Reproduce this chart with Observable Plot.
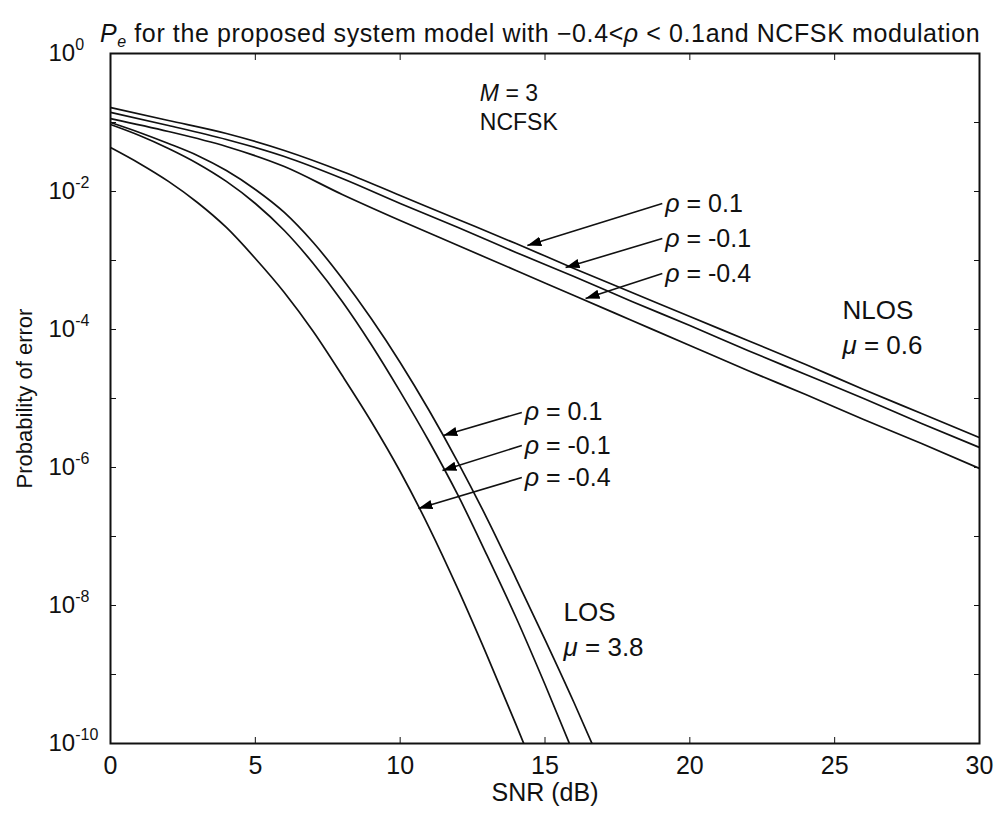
<!DOCTYPE html>
<html>
<head>
<meta charset="utf-8">
<script src="https://cdn.jsdelivr.net/npm/d3@7"></script>
<script src="https://cdn.jsdelivr.net/npm/@observablehq/plot@0.6"></script>
<style>
  body { margin: 0; background: #fff; }
  #wrap { position: relative; width: 1003px; height: 816px; font-family: "Liberation Sans", Arial, sans-serif; }
  #title { position: absolute; left: 100px; top: 21px; font-size: 25px; line-height: 25px; letter-spacing: 0.6px; white-space: nowrap; color: #111; }
  #title sub { font-size: 16px; vertical-align: -5px; line-height: 0; }
</style>
</head>
<body>
<div id="wrap">
  <div id="title"><i>P</i><sub><i>e</i></sub> for the proposed system model with −0.4&lt;<i>ρ</i> &lt; 0.1and NCFSK modulation</div>
</div>
<script>
// ---------- data ----------
const nlosSNR = [0, 2, 4, 6, 8, 10, 12, 14, 16, 18, 20, 22, 24, 26, 28, 30];
const nlosRho01  = [0.165, 0.107, 0.0693, 0.0393, 0.0195, 8.75e-3, 3.93e-3, 1.76e-3, 7.66e-4, 3.44e-4, 1.54e-4, 6.93e-5, 3.11e-5, 1.35e-5, 6.07e-6, 2.72e-6];
const nlosRhoM01 = [0.140, 0.0906, 0.0568, 0.0321, 0.0154, 6.70e-3, 3.01e-3, 1.31e-3, 5.86e-4, 2.55e-4, 1.14e-4, 4.97e-5, 2.23e-5, 1.0e-5, 4.35e-6, 1.95e-6];
const nlosRhoM04 = [0.114, 0.0741, 0.0449, 0.0230, 9.06e-3, 3.80e-3, 1.65e-3, 7.16e-4, 3.11e-4, 1.35e-4, 5.86e-5, 2.55e-5, 1.14e-5, 4.97e-6, 2.23e-6, 9.68e-7];

const losSNR = [0, 1, 2, 3, 4, 5, 6, 7, 8, 9, 10, 11, 12, 13, 14, 15, 16, 17];
const losRho01  = [0.1, 0.0717, 0.0496, 0.0333, 0.0201, 0.0107, 4.97e-3, 1.82e-3, 5.48e-4, 1.44e-4, 3.33e-5, 6.70e-6, 1.18e-6, 1.82e-7, 2.46e-8, 3.21e-9, 3.93e-10, 4.35e-11];
const losRhoM01 = [0.0935, 0.0648, 0.0420, 0.0255, 0.0140, 6.70e-3, 2.72e-3, 9.05e-4, 2.55e-4, 6.07e-5, 1.26e-5, 2.38e-6, 3.93e-7, 5.31e-8, 6.70e-9, 7.16e-10, 6.93e-11];
const losRhoM04 = [0.0434, 0.0255, 0.0140, 6.93e-3, 3.01e-3, 1.07e-3, 3.44e-4, 9.35e-5, 2.15e-5, 4.65e-6, 8.75e-7, 1.35e-7, 1.71e-8, 1.88e-9, 1.88e-10, 1.76e-11];

const xTicks = [0, 5, 10, 15, 20, 25, 30];
const yTicksAll = [1, 1e-1, 1e-2, 1e-3, 1e-4, 1e-5, 1e-6, 1e-7, 1e-8, 1e-9, 1e-10];
const yTickLabels = [1, 1e-2, 1e-4, 1e-6, 1e-8, 1e-10];

// annotations
const rhoLabels = ["ρ = 0.1", "ρ = -0.1", "ρ = -0.4"];
const nlosLabelSNR = 19.15;
const nlosLabelPe = [6.7e-3, 2.08e-3, 6.48e-4];
const nlosTipSNR = [14.39, 15.71, 16.40];
const nlosTipPe = [1.65e-3, 7.92e-4, 2.81e-4];
const losLabelSNR = 14.3;
const losLabelPe = [6.27e-6, 2.08e-6, 7.16e-7];
const losTipSNR = [11.49, 11.46, 10.63];
const losTipPe = [2.91e-6, 9.05e-7, 2.55e-7];

const notes = [
  {t: "M = 3", snr: 12.75, pe: 0.26, size: 23},
  {t: "NCFSK", snr: 12.75, pe: 0.1, size: 23},
  {t: "NLOS", snr: 25.27, pe: 1.88e-4, size: 26},
  {t: "μ = 0.6", snr: 25.27, pe: 5.86e-5, size: 26},
  {t: "LOS", snr: 15.64, pe: 7.9e-9, size: 26},
  {t: "μ = 3.8", snr: 15.64, pe: 2.46e-9, size: 26}
];

// ---------- build tables ----------
const rows = [];
const addSeries = (name, xs, ys) => ys.forEach((v, i) => rows.push({series: name, snr: xs[i], pe: v}));
addSeries("NLOS ρ=0.1", nlosSNR, nlosRho01);
addSeries("NLOS ρ=-0.1", nlosSNR, nlosRhoM01);
addSeries("NLOS ρ=-0.4", nlosSNR, nlosRhoM04);
addSeries("LOS ρ=0.1", losSNR, losRho01);
addSeries("LOS ρ=-0.1", losSNR, losRhoM01);
addSeries("LOS ρ=-0.4", losSNR, losRhoM04);

const arrows = [];
rhoLabels.forEach((t, i) => arrows.push({t, x1: nlosLabelSNR - 0.1, y1: nlosLabelPe[i], x2: nlosTipSNR[i], y2: nlosTipPe[i]}));
rhoLabels.forEach((t, i) => arrows.push({t, x1: losLabelSNR - 0.1, y1: losLabelPe[i], x2: losTipSNR[i], y2: losTipPe[i]}));

function filledArrow(color, context) {
  const doc = (context && context.document) || document;
  const ns = "http://www.w3.org/2000/svg";
  const m = doc.createElementNS(ns, "marker");
  m.setAttribute("viewBox", "0 -5 10 10");
  m.setAttribute("refX", "10");
  m.setAttribute("refY", "0");
  m.setAttribute("markerWidth", "14");
  m.setAttribute("markerHeight", "14");
  m.setAttribute("markerUnits", "userSpaceOnUse");
  m.setAttribute("orient", "auto");
  const p = doc.createElementNS(ns, "path");
  p.setAttribute("d", "M0,-3.4L10,0L0,3.4Z");
  p.setAttribute("fill", "black");
  p.setAttribute("stroke", "none");
  m.appendChild(p);
  return m;
}

const font = "Liberation Sans, Arial, sans-serif";

const chart = Plot.plot({
  width: 1003,
  height: 816,
  marginLeft: 110,
  marginRight: 24,
  marginTop: 53,
  marginBottom: 73,
  style: {fontFamily: font, fontSize: "23px", background: "white", color: "#111"},
  x: {domain: [0, 30]},
  y: {type: "log", domain: [1e-10, 1]},
  marks: [
    Plot.line(rows, {x: "snr", y: "pe", z: "series", stroke: "#111", strokeWidth: 1.7, curve: "monotone-x", clip: true}),
    Plot.link(arrows, {x1: "x1", y1: "y1", x2: "x2", y2: "y2", stroke: "#111", strokeWidth: 1.6, markerEnd: filledArrow}),
    Plot.text(arrows, {x: d => d.x1 + 0.1, y: "y1", text: "t", textAnchor: "start", fontSize: 25}),
    Plot.text(notes, {x: "snr", y: "pe", text: "t", textAnchor: "start", fontSize: d => d.size}),
    // inward ticks on all four sides
    Plot.axisX({anchor: "bottom", ticks: xTicks, tickSize: -6, tickFormat: () => "", label: null}),
    Plot.axisX({anchor: "top", ticks: xTicks, tickSize: -6, tickFormat: () => "", label: null}),
    Plot.axisY({anchor: "left", ticks: yTicksAll, tickSize: -6, tickFormat: () => "", label: null}),
    Plot.axisY({anchor: "right", ticks: yTicksAll, tickSize: -6, tickFormat: () => "", label: null}),
    // tick labels
    Plot.axisX({anchor: "bottom", ticks: xTicks, tickSize: 0, tickPadding: 13, fontSize: 25, label: null}),
    Plot.axisY({anchor: "left", ticks: yTickLabels, tickSize: 0, tickPadding: 62, textAnchor: "start", fontSize: 24,
      tickFormat: d => `10^${Math.round(Math.log10(d))}`, label: null}),
    // axis titles
    Plot.text(["SNR (dB)"], {frameAnchor: "bottom", dy: 57, text: d => d, fontSize: 25, textAnchor: "middle"}),
    Plot.text(["Probability of error"], {frameAnchor: "left", dx: -86, rotate: -90, text: d => d, fontSize: 22, textAnchor: "middle"}),
    Plot.frame({stroke: "#111", strokeWidth: 2})
  ]
});

document.getElementById("wrap").appendChild(chart);

// superscripts on y tick labels, italic Greek / M in annotations
const NS = "http://www.w3.org/2000/svg";
d3.select(chart).selectAll("text").each(function () {
  const el = this;
  const s = el.textContent;
  let m = s.match(/^10\^(-?\d+)$/);
  if (m) {
    el.textContent = "";
    const a = document.createElementNS(NS, "tspan");
    a.textContent = "10";
    const b = document.createElementNS(NS, "tspan");
    b.textContent = m[1];
    b.setAttribute("font-size", "16");
    b.setAttribute("dy", "-11");
    el.appendChild(a); el.appendChild(b);
    return;
  }
  m = s.match(/^([ρμM])( = .*)$/);
  if (m) {
    el.textContent = "";
    const a = document.createElementNS(NS, "tspan");
    a.textContent = m[1];
    a.setAttribute("font-style", "italic");
    const b = document.createElementNS(NS, "tspan");
    b.textContent = m[2];
    el.appendChild(a); el.appendChild(b);
  }
});
</script>
</body>
</html>
